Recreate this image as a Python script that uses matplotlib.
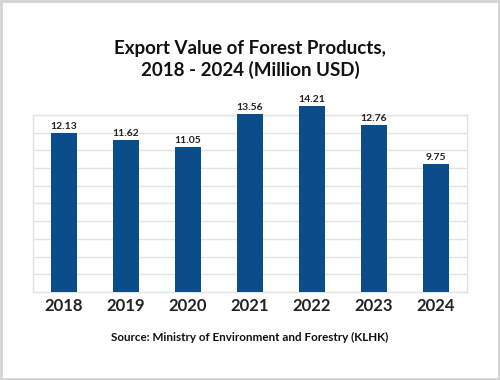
import matplotlib.pyplot as plt
from matplotlib.patches import Rectangle
import numpy as np

plt.rcParams['font.family'] = ['Lato', 'DejaVu Sans']

years = ['2018', '2019', '2020', '2021', '2022', '2023', '2024']
values = [12.13, 11.62, 11.05, 13.56, 14.21, 12.76, 9.75]

fig = plt.figure(figsize=(5, 3.8), dpi=100)
ax = fig.add_axes([0.066, 0.2316, 0.868, 0.466])

x = np.arange(len(years))
bars = ax.bar(x, values, width=0.42, color='#0B4C8A', zorder=3, clip_on=False)

for xi, v in zip(x, values):
    ax.text(xi, v + 0.15, f'{v:.2f}', ha='center', va='bottom',
            fontsize=7.5, fontweight='bold', color='#222222')

ax.set_xlim(-0.5, len(years) - 0.5)
ax.set_ylim(0, 13.5)
ax.set_yticks(np.linspace(0, 13.5, 11))
ax.set_yticklabels([])
ax.tick_params(axis='y', length=0)
ax.grid(axis='y', color='#e3e3e3', linewidth=1, zorder=0)

ax.set_xticks(x)
ax.set_xticklabels(years, fontsize=12, fontweight='bold', color='#222222')
ax.tick_params(axis='x', length=0, pad=4)

for side in ['left', 'right', 'top', 'bottom']:
    ax.spines[side].set_color('#e3e3e3')
    ax.spines[side].set_linewidth(1)

fig.text(0.5, 0.843, 'Export Value of Forest Products,\n2018 - 2024 (Million USD)',
         ha='center', va='center', fontsize=13.5, fontweight='bold',
         color='#111111', linespacing=1.3)
fig.text(0.5, 0.113, 'Source: Ministry of Environment and Forestry (KLHK)',
         ha='center', va='center', fontsize=8.4, fontweight='bold', color='#111111')

fig.patches.append(Rectangle((0.002, 0.003), 0.996, 0.994, transform=fig.transFigure,
                             fill=False, edgecolor='#d4d4d4', linewidth=2))

fig.savefig('out.png', dpi=100)
